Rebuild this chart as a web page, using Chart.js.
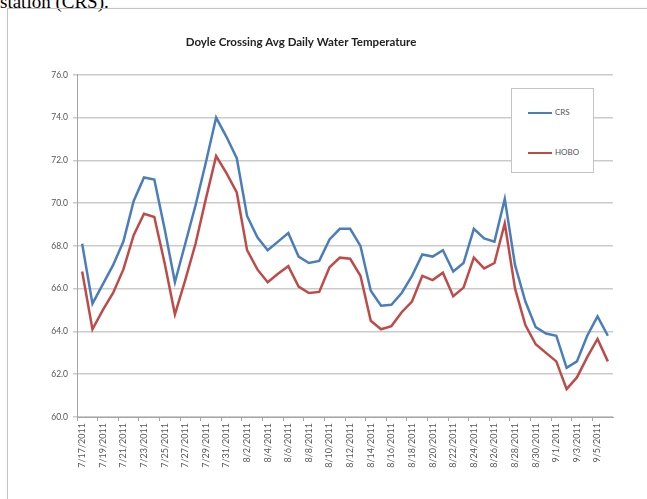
<!DOCTYPE html>
<html>
<head>
<meta charset="utf-8">
<script src="https://cdn.jsdelivr.net/npm/chart.js@4.4.0/dist/chart.umd.min.js"></script>
<style>
  body { margin: 0; background: #fff; width: 647px; height: 499px; overflow: hidden; position: relative; }
  #doc { position: absolute; left: 0; top: -8px; font: 19px/1 "Liberation Serif", serif; color: #000; white-space: nowrap; }
  #frame { position: absolute; left: 7px; top: 8px; width: 660px; height: 510px; border: 1px solid #c4c4c4; box-shadow: 1px 1px 3px rgba(0,0,0,0.15); }
  #wrap { position: absolute; left: -11px; top: 8px; width: 658px; height: 491px; }
  #legend { position: absolute; left: 511px; top: 88px; width: 81px; height: 83px; border: 1px solid #c4c4c4; background: #fff; }
  .item { position: absolute; left: 16px; font: 8px Lato, sans-serif; color: #555; white-space: nowrap; }
  .item span { display: inline-block; width: 24px; height: 2.5px; vertical-align: middle; margin-right: 3px; }
</style>
</head>
<body>
<div id="doc">station (CRS).</div>
<div id="frame"></div>
<div id="wrap"><canvas id="chart"></canvas></div>
<div id="legend"></div>
<script>
// one category per day, 7/17/2011 .. 9/6/2011
const dates = [
  '7/17/2011', '7/18/2011', '7/19/2011', '7/20/2011', '7/21/2011', '7/22/2011', '7/23/2011', '7/24/2011',
  '7/25/2011', '7/26/2011', '7/27/2011', '7/28/2011', '7/29/2011', '7/30/2011', '7/31/2011', '8/1/2011',
  '8/2/2011', '8/3/2011', '8/4/2011', '8/5/2011', '8/6/2011', '8/7/2011', '8/8/2011', '8/9/2011',
  '8/10/2011', '8/11/2011', '8/12/2011', '8/13/2011', '8/14/2011', '8/15/2011', '8/16/2011', '8/17/2011',
  '8/18/2011', '8/19/2011', '8/20/2011', '8/21/2011', '8/22/2011', '8/23/2011', '8/24/2011', '8/25/2011',
  '8/26/2011', '8/27/2011', '8/28/2011', '8/29/2011', '8/30/2011', '8/31/2011', '9/1/2011', '9/2/2011',
  '9/3/2011', '9/4/2011', '9/5/2011', '9/6/2011'
];

const crs = [
  68.1, 65.3, 66.2, 67.1, 68.2, 70.1, 71.2, 71.1,
  68.8, 66.3, 68.1, 69.9, 71.9, 74.0, 73.1, 72.1,
  69.4, 68.4, 67.8, 68.2, 68.6, 67.5, 67.2, 67.3,
  68.3, 68.8, 68.8, 68.0, 65.9, 65.2, 65.25, 65.8,
  66.6, 67.6, 67.5, 67.8, 66.8, 67.2, 68.8, 68.35,
  68.2, 70.2, 67.1, 65.4, 64.2, 63.9, 63.8, 62.3,
  62.6, 63.8, 64.7, 63.8
];

const hobo = [
  66.8, 64.1, 65.0, 65.8, 66.9, 68.5, 69.5, 69.35,
  67.2, 64.8, 66.4, 68.1, 70.2, 72.2, 71.4, 70.5,
  67.8, 66.9, 66.3, 66.7, 67.05, 66.1, 65.8, 65.85,
  67.0, 67.45, 67.4, 66.6, 64.5, 64.1, 64.25, 64.9,
  65.4, 66.6, 66.4, 66.75, 65.65, 66.05, 67.45, 66.95,
  67.2, 69.05, 66.0, 64.3, 63.4, 63.0, 62.6, 61.3,
  61.85, 62.8, 63.65, 62.6
];

const seriesNames = ['CRS', 'HOBO'];
const seriesColors = ['#4a7ebb', '#be4b48'];
const yTicks = [60, 62, 64, 66, 68, 70, 72, 74, 76];

const axisColor = '#a6a6a6';
const gridColor = '#cbcbcb';

const ctx = document.getElementById('chart').getContext('2d');
new Chart(ctx, {
  type: 'line',
  data: {
    labels: dates,
    datasets: [
      { label: seriesNames[0], data: crs, borderColor: seriesColors[0], borderWidth: 2.5, pointRadius: 0, tension: 0 },
      { label: seriesNames[1], data: hobo, borderColor: seriesColors[1], borderWidth: 2.5, pointRadius: 0, tension: 0 }
    ]
  },
  options: {
    responsive: true,
    maintainAspectRatio: false,
    animation: false,
    layout: { padding: { left: 0, right: 34, top: 0, bottom: 0 } },
    plugins: {
      legend: { display: false },
      tooltip: { enabled: false },
      title: {
        display: true,
        text: 'Doyle Crossing Avg Daily Water Temperature',
        color: '#222',
        font: { family: 'Lato', size: 11.5, weight: 'bold' },
        padding: { top: 27, bottom: 26 }
      }
    },
    scales: {
      x: {
        offset: true,
        afterFit: (scale) => { scale.height = 82; },
        border: { color: axisColor, width: 1 },
        grid: {
          offset: true,
          drawOnChartArea: false,
          tickLength: 4,
          color: (c) => (c.index % 2 === 0 ? axisColor : 'rgba(0,0,0,0)')
        },
        ticks: {
          autoSkip: false,
          maxRotation: 90,
          minRotation: 90,
          padding: 2,
          color: '#555',
          font: { family: 'Lato', size: 9 },
          callback: function (value, index) { return index % 2 === 0 ? dates[index] : ''; }
        }
      },
      y: {
        min: 60,
        max: 76,
        afterFit: (scale) => { scale.width = 88; },
        afterBuildTicks: (scale) => { scale.ticks = yTicks.map(v => ({ value: v })); },
        border: { color: axisColor, width: 1 },
        grid: { color: gridColor, lineWidth: 1.5, tickLength: 4 },
        ticks: {
          padding: 5,
          color: '#555',
          font: { family: 'Lato', size: 8.5 },
          callback: (v) => Number(v).toFixed(1)
        }
      }
    }
  }
});

// legend box inside the plot, as in the original
const legend = document.getElementById('legend');
seriesNames.forEach((name, i) => {
  const item = document.createElement('div');
  item.className = 'item';
  item.style.top = (i === 0 ? 18 : 58) + 'px';
  item.innerHTML = '<span style="background:' + seriesColors[i] + '"></span>' + name;
  legend.appendChild(item);
});
</script>
</body>
</html>
